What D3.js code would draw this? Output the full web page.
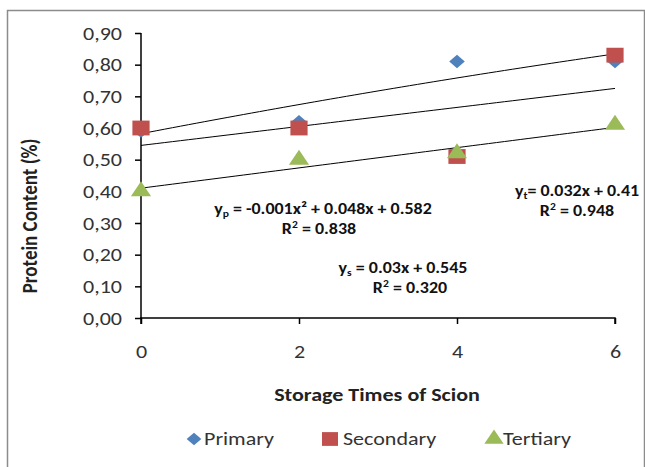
<!DOCTYPE html>
<html><head><meta charset="utf-8">
<script src="https://cdn.jsdelivr.net/npm/d3@7"></script>
<style>html,body{margin:0;padding:0;background:#fff;}svg{display:block;font-family:Carlito,Lato,"Open Sans",sans-serif;}</style>
</head><body>
<svg id="c" width="645" height="467"></svg>
<script>
const xValues = [0, 2, 4, 6];
const primary = [0.59, 0.62, 0.81, 0.81];
const secondary = [0.60, 0.60, 0.51, 0.83];
const tertiary = [0.40, 0.50, 0.52, 0.61];
const seriesNames = ["Primary", "Secondary", "Tertiary"];
const yTicks = [0, 0.1, 0.2, 0.3, 0.4, 0.5, 0.6, 0.7, 0.8, 0.9];
const xTicks = [0, 2, 4, 6];
// trendline coefficients [c2, c1, c0]
const trendPrimary = [-0.001, 0.048, 0.582];
const trendSecondary = [0, 0.03, 0.545];
const trendTertiary = [0, 0.032, 0.41];

const FONT = "Carlito,Lato,'Open Sans',sans-serif";
const SX = 1.16; // horizontal stretch of the reference rendering
const svg = d3.select("#c");
const x = d3.scaleLinear().domain([0, 6]).range([141, 615]);
const y = d3.scaleLinear().domain([0, 0.9]).range([318, 33]);
const colors = ["#4F81BD", "#C0504D", "#9BBB59"];

// outer border
svg.append("rect").attr("x", 7.5).attr("y", 10.5).attr("width", 637).attr("height", 470)
  .attr("fill", "none").attr("stroke", "#8c8c8c").attr("stroke-width", 1.5);

const fmt = d => d3.format(".2f")(d).replace(".", ",");
const yAxis = d3.axisLeft(y).tickValues(yTicks).tickFormat(fmt).tickSize(6);
const gy = svg.append("g").attr("transform", "translate(141,0)").call(yAxis);
const xAxis = d3.axisBottom(x).tickValues(xTicks).tickFormat(d3.format("d")).tickSize(6);
const gx = svg.append("g").attr("transform", "translate(0,318)").call(xAxis);
[gy, gx].forEach(g => {
  g.select(".domain").attr("stroke", "#000").attr("stroke-width", 1.5);
  g.selectAll(".tick line").attr("stroke", "#000").attr("stroke-width", 1.5);
  g.selectAll("text").attr("font-size", 19).attr("fill", "#333").attr("font-family", FONT);
});
gy.selectAll(".tick text").attr("x", 0).attr("dy", "0.32em").attr("transform", `translate(-19,0) scale(${SX},1)`);
gx.selectAll(".tick text").attr("y", 0).attr("dy", "0.71em").attr("transform", `translate(0,27) scale(${SX},1)`);
gy.select(".domain").attr("d", "M0,33V318");
gx.select(".domain").attr("d", "M141,6V0H615V6");

// trendlines
const trends = [trendPrimary, trendSecondary, trendTertiary];
const samples = d3.range(0, 6.01, 0.1);
const line = d3.line().x(d => x(d[0])).y(d => y(d[1]));
trends.forEach(c => {
  svg.append("path")
    .attr("d", line(samples.map(t => [t, c[0]*t*t + c[1]*t + c[2]])))
    .attr("fill", "none").attr("stroke", "#000").attr("stroke-width", 1);
});

// markers
const data = [primary, secondary, tertiary];
const diamond = {draw(ctx, size) { const r = Math.sqrt(size / 2); ctx.moveTo(0, -r); ctx.lineTo(r, 0); ctx.lineTo(0, r); ctx.lineTo(-r, 0); ctx.closePath(); }};
const shapes = [diamond, d3.symbolSquare, d3.symbolTriangle];
const sizes = [90, 220, 130];
[0, 1, 2].forEach(i => {
  const sym = d3.symbol().type(shapes[i]).size(sizes[i]);
  svg.append("g").selectAll("path").data(xValues.map((xv, j) => [xv, data[i][j]]))
    .join("path")
    .attr("d", sym)
    .attr("transform", d => `translate(${x(d[0])},${y(d[1])}) scale(${SX},1)`)
    .attr("fill", colors[i]);
});

// stretched text helper
function stext(px, py, anchor, size, weight) {
  return svg.append("g").attr("transform", `translate(${px},${py}) scale(${SX},1)`)
    .append("text").attr("text-anchor", anchor).attr("font-size", size)
    .attr("font-weight", weight).attr("font-family", FONT);
}

// axis titles
stext(377, 401, "middle", 19, "bold").attr("fill", "#222").text("Storage Times of Scion");
svg.append("g").attr("transform", `translate(37,216) scale(${SX},1) rotate(-90)`)
  .append("text").attr("text-anchor", "middle").attr("font-size", 19).attr("font-weight", "bold")
  .attr("font-family", FONT).attr("fill", "#222").text("Protein Content (%)");

// equations
function eq(cx, cy, sub, body) {
  const t = stext(cx, cy, "middle", 15.5, "bold").attr("fill", "#111");
  t.append("tspan").text("y");
  t.append("tspan").attr("font-size", 10).attr("dy", 3).text(sub);
  t.append("tspan").attr("dy", -3).text(body);
}
function r2(cx, cy, v) {
  const t = stext(cx, cy, "middle", 15.5, "bold").attr("fill", "#111");
  t.append("tspan").text("R");
  t.append("tspan").attr("font-size", 10).attr("dy", -6).text("2");
  t.append("tspan").attr("dy", 6).text(" = " + v);
}
eq(323, 214, "p", " = -0.001x² + 0.048x + 0.582");
r2(319, 234, "0.838");
eq(577, 196, "t", "= 0.032x + 0.41");
r2(577, 216, "0.948");
eq(403, 273, "s", " = 0.03x + 0.545");
r2(410, 293, "0.320");

// legend
const legend = [
  {name: seriesNames[0], mx: 194, tx: 204},
  {name: seriesNames[1], mx: 330, tx: 343},
  {name: seriesNames[2], mx: 494, tx: 503}
];
legend.forEach((l, i) => {
  const sym = d3.symbol().type(shapes[i]).size([80, 190, 120][i]);
  svg.append("path").attr("d", sym)
    .attr("transform", `translate(${l.mx},439) scale(${SX},1)`)
    .attr("fill", colors[i]);
  stext(l.tx, 445, "start", 19, "normal").attr("fill", "#333").text(l.name);
});
</script>
</body></html>
